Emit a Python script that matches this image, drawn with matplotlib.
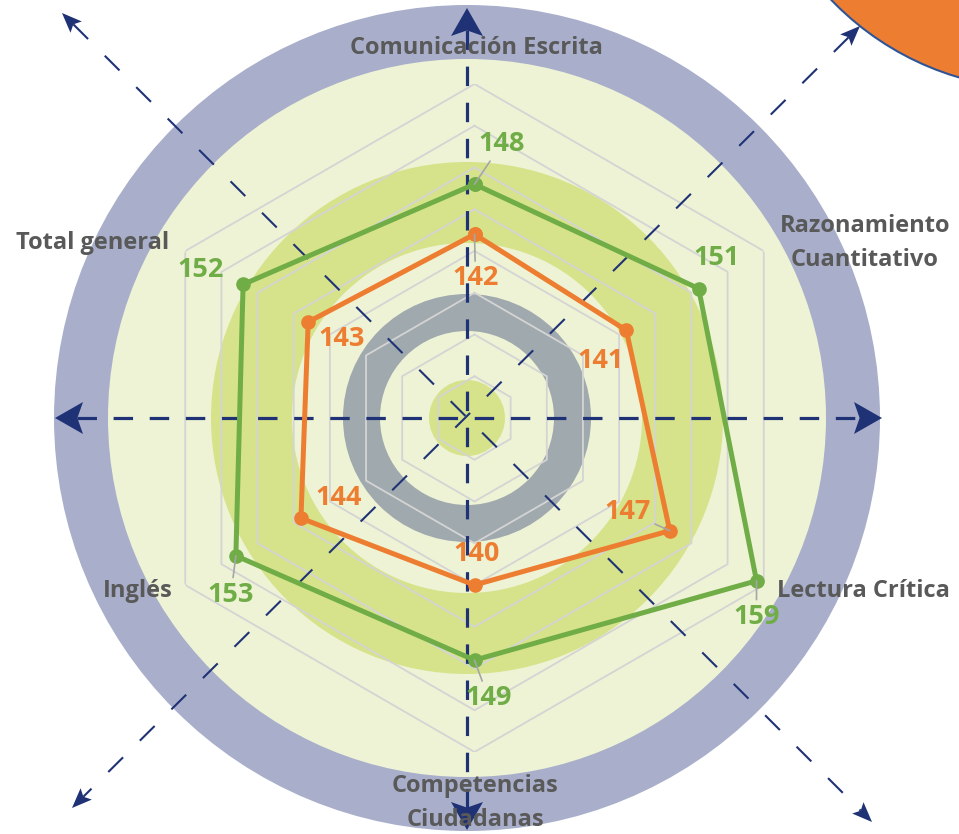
import numpy as np
import matplotlib
matplotlib.use("Agg")
import matplotlib.pyplot as plt
from matplotlib.patches import Circle, Polygon
from matplotlib.lines import Line2D

plt.rcParams['font.family'] = ['Open Sans', 'DejaVu Sans']
plt.rcParams['lines.scale_dashes'] = False

# ---------------- data ----------------
categories = ["Comunicación Escrita", "Razonamiento\nCuantitativo", "Lectura Crítica",
              "Competencias\nCiudadanas", "Inglés", "Total general"]
serie_verde = [148, 151, 159, 149, 153, 152]
serie_naranja = [142, 141, 147, 140, 144, 143]
r_min, r_max, r_step = 120, 160, 5

# ---------------- style ----------------
C_GREEN = '#70AD47'
C_ORANGE = '#ED7D31'
C_TEXT = '#595959'
C_NAVY = '#1F3275'
C_RING = '#A9AFCB'
C_LIGHT = '#EEF3D5'
C_GRING = '#D6E38A'
C_GRAY = '#A0A9AD'
C_GRID = '#D4D4D4'

W, H = 959, 834
fig = plt.figure(figsize=(W / 100, H / 100), dpi=100)
bg = fig.add_axes([0, 0, 1, 1])
bg.set_xlim(0, W)
bg.set_ylim(H, 0)
bg.axis('off')

# decorative rings (pixel layout)
cx, cy = 467, 418
for r, c in [(413, C_RING), (359, C_LIGHT), (256, C_GRING), (175, C_LIGHT),
             (124, C_GRAY), (87, C_LIGHT), (38, C_GRING)]:
    bg.add_patch(Circle((cx, cy), r, fc=c, ec='none'))

# radar axes
rcx, rcy, R = 474.5, 418, 334
ax = fig.add_axes([(rcx - R) / W, (H - rcy - R) / H, 2 * R / W, 2 * R / H],
                  projection='polar')
ax.set_theta_zero_location('N')
ax.set_theta_direction(-1)
ax.set_ylim(r_min, r_max)
ax.set_xticks([])
ax.set_yticks([])
ax.grid(False)
ax.spines['polar'].set_visible(False)
ax.patch.set_visible(False)

theta = np.arange(len(categories)) * 2 * np.pi / len(categories)
theta_c = np.r_[theta, theta[0]]

# hexagonal grid
for lvl in np.arange(r_min + r_step, r_max + 0.1, r_step):
    ax.plot(theta_c, [lvl] * len(theta_c), color=C_GRID, lw=1.3, zorder=1)


# dashed arrows (decoration, pixel coordinates)
def head(tip, d, L, Wd):
    d = np.asarray(d, float)
    n = np.array([-d[1], d[0]])
    tip = np.asarray(tip, float)
    pts = [tip, tip - L * d + Wd / 2 * n, tip - 0.8 * L * d, tip - L * d - Wd / 2 * n]
    p = Polygon(pts, closed=True, fc=C_NAVY, ec='none', transform=bg.transData,
                clip_on=False, zorder=2)
    ax.add_artist(p)


def darrow(p0, p1, lw, dash, L, Wd):
    p0 = np.asarray(p0, float)
    p1 = np.asarray(p1, float)
    d = (p1 - p0) / np.linalg.norm(p1 - p0)
    a = p0 + 0.8 * L * d
    b = p1 - 0.8 * L * d
    ln = Line2D([a[0], b[0]], [a[1], b[1]], color=C_NAVY, lw=lw,
                linestyle=(0, dash), transform=bg.transData, clip_on=False, zorder=2)
    ax.add_artist(ln)
    head(p1, d, L, Wd)
    head(p0, -d, L, Wd)


darrow((55, 418), (882, 418), 2.3, (14, 12), 28, 32)
darrow((467, 8), (467, 830), 2.3, (14, 12), 28, 32)
darrow((62, 13), (872, 822), 1.5, (15, 17), 20, 16)
darrow((860, 26), (72, 808), 1.5, (15, 17), 20, 16)

# orange decorative circle (top right)
bg.add_patch(Circle((1040, -200), 289, fc=C_ORANGE, ec='#2F5597', lw=1.5, zorder=3))

# data series
ax.plot(theta_c, serie_naranja + serie_naranja[:1], color=C_ORANGE, lw=3.6,
        marker='o', ms=9.5, zorder=4, clip_on=False)
ax.plot(theta_c, serie_verde + serie_verde[:1], color=C_GREEN, lw=3.6,
        marker='o', ms=9.5, zorder=4, clip_on=False)

# value labels (offsets in pixels, y downwards)
off_verde = [(27, -40), (18, -31), (0, 36), (14, 38), (-5, 39), (-42, -14)]
off_naranja = [(1, 44), (-26, 31), (-42, -19), (2, -31), (38, -20), (33, 17)]
lead_verde = [True, False, True, True, True, False]
lead_naranja = [True, False, True, False, False, False]


def labels(vals, offs, leads, color):
    for t, v, (dx, dy), ld in zip(theta, vals, offs, leads):
        kw = {}
        if ld:
            kw['arrowprops'] = dict(arrowstyle='-', color='#A6A6A6', lw=1.2,
                                    shrinkA=1, shrinkB=0)
        ax.annotate(str(v), xy=(t, v), xytext=(dx * 0.72, -dy * 0.72),
                    textcoords='offset points', ha='center', va='center',
                    fontsize=19.5, fontweight='bold', color=color,
                    annotation_clip=False, zorder=6, **kw)


labels(serie_verde, off_verde, lead_verde, C_GREEN)
labels(serie_naranja, off_naranja, lead_naranja, C_ORANGE)

# category labels
cat_pos = [(476, 48), (865, 243), (863, 591), (475, 803), (138, 591), (93, 243)]
for (x, y), name in zip(cat_pos, categories):
    ax.text(x, y, name, transform=bg.transData, ha='center', va='center',
            fontsize=17, fontweight='bold', color=C_TEXT, linespacing=1.6,
            zorder=7, clip_on=False)

fig.savefig('out.png', dpi=100)
